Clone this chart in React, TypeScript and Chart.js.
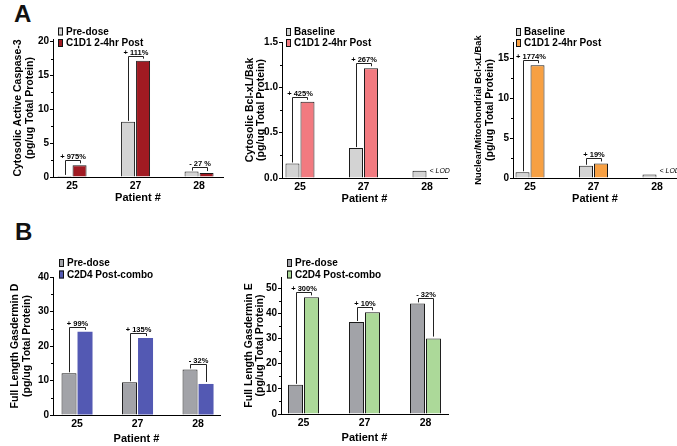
import React, { useEffect, useRef } from 'react';
import { Chart, registerables } from 'chart.js';
Chart.register(...registerables);

const FONT = '"Liberation Sans", Arial, Helvetica, sans-serif';

// ---------- data ----------
const patients = ['25', '27', '28'];

const casp3Pre = [0.16, 8.15, 0.8];
const casp3Post = [1.72, 17.2, 0.58];
const casp3Change = ['+ 975%', '+ 111%', '- 27 %'];
const casp3Ticks = [0, 5, 10, 15, 20];
const casp3TickLabels = ['0', '5', '10', '15', '20'];

const bclCytoBase = [0.16, 0.33, 0.08];
const bclCytoPost = [0.84, 1.21, null];
const bclCytoChange = ['+ 425%', '+ 267%', null];
const bclCytoTicks = [0, 0.5, 1.0, 1.5];
const bclCytoTickLabels = ['0.0', '0.5', '1.0', '1.5'];

const bclNucBase = [0.72, 1.53, 0.45];
const bclNucPost = [14.1, 1.82, null];
const bclNucChange = ['+ 1774%', '+ 19%', null];
const bclNucTicks = [0, 5, 10, 15];
const bclNucTickLabels = ['0', '5', '10', '15'];

const gsdmdPre = [12.1, 9.5, 13.2];
const gsdmdPost = [24.1, 22.3, 9.0];
const gsdmdChange = ['+ 99%', '+ 135%', '- 32%'];
const gsdmdTicks = [0, 10, 20, 30, 40];
const gsdmdTickLabels = ['0', '10', '20', '30', '40'];

const gsdmePre = [11.6, 36.6, 44.0];
const gsdmePost = [46.4, 40.5, 30.0];
const gsdmeChange = ['+ 300%', '+ 10%', '- 32%'];
const gsdmeTicks = [0, 10, 20, 30, 40, 50];
const gsdmeTickLabels = ['0', '10', '20', '30', '40', '50'];

const lodLabel = '< LOD';
const xTitle = 'Patient #';

type PanelCfg = {
  key: string;
  left: number; top: number; width: number; height: number;
  yAxisW: number; xAxisH: number; padTop: number; padRight: number;
  xMin: number; xMax: number; yMax: number;
  yTicks: number[]; yTickLabels: string[];
  pre: (number | null)[]; post: (number | null)[]; changes: (string | null)[];
  names: string[];
  preColor: string; postColor: string; postBorder: number;
  yTitle: string[]; titleX: number[]; titleSizes: number[];
  legendDx: number; legendRows: number[];
  barPct: number; catPct: number;
};

const panels: PanelCfg[] = [
  {
    key: 'casp3', left: 0, top: 0, width: 232, height: 205,
    yAxisW: 53, xAxisH: 28, padTop: 39, padRight: 9,
    xMin: -0.3, xMax: 2.377, yMax: 20.4,
    yTicks: casp3Ticks, yTickLabels: casp3TickLabels,
    pre: casp3Pre, post: casp3Post, changes: casp3Change,
    names: ['Pre-dose', 'C1D1 2-4hr Post'],
    preColor: '#d3d3d3', postColor: '#a11a22', postBorder: 1,
    yTitle: ['Cytosolic Active Caspase-3', '(pg/ug Total Protein)'], titleX: [18, 30], titleSizes: [10.5, 10.5],
    legendDx: 5, legendRows: [31.5, 43],
    barPct: 0.933, catPct: 0.4724,
  },
  {
    key: 'bclc', left: 232, top: 0, width: 230, height: 206,
    yAxisW: 50, xAxisH: 28, padTop: 42, padRight: 15,
    xMin: -0.283, xMax: 2.315, yMax: 1.5,
    yTicks: bclCytoTicks, yTickLabels: bclCytoTickLabels,
    pre: bclCytoBase, post: bclCytoPost, changes: bclCytoChange,
    names: ['Baseline', 'C1D1 2-4hr Post'],
    preColor: '#d3d3d3', postColor: '#f27a80', postBorder: 1,
    yTitle: ['Cytosolic Bcl-xL/Bak', '(pg/ug Total Protein)'], titleX: [18, 29.5], titleSizes: [10.5, 10.5],
    legendDx: 4, legendRows: [32, 43],
    barPct: 0.933, catPct: 0.4724,
  },
  {
    key: 'bcln', left: 462, top: 0, width: 215, height: 206,
    yAxisW: 51, xAxisH: 28, padTop: 42, padRight: 0,
    xMin: -0.268, xMax: 2.315, yMax: 17,
    yTicks: bclNucTicks, yTickLabels: bclNucTickLabels,
    pre: bclNucBase, post: bclNucPost, changes: bclNucChange,
    names: ['Baseline', 'C1D1 2-4hr Post'],
    preColor: '#d3d3d3', postColor: '#f7a043', postBorder: 1,
    yTitle: ['Nuclear/Mitochondrial Bcl-xL/Bak', '(pg/ug Total Protein)'], titleX: [16, 28.5], titleSizes: [9.4, 10.5],
    legendDx: 3, legendRows: [32, 43],
    barPct: 0.933, catPct: 0.4724,
  },
  {
    key: 'gsdmd', left: 0, top: 250, width: 236, height: 196,
    yAxisW: 53, xAxisH: 31, padTop: 27, padRight: 16,
    xMin: -0.397, xMax: 2.363, yMax: 40,
    yTicks: gsdmdTicks, yTickLabels: gsdmdTickLabels,
    pre: gsdmdPre, post: gsdmdPost, changes: gsdmdChange,
    names: ['Pre-dose', 'C2D4 Post-combo'],
    preColor: '#a2a3a8', postColor: '#5359b3', postBorder: 0,
    yTitle: ['Full Length Gasdermin D', '(pg/ug Total Protein)'], titleX: [15.5, 27], titleSizes: [10.5, 10.5],
    legendDx: 6, legendRows: [13, 24.5],
    barPct: 0.9375, catPct: 0.529,
  },
  {
    key: 'gsdme', left: 236, top: 250, width: 234, height: 195,
    yAxisW: 45, xAxisH: 31, padTop: 27, padRight: 22,
    xMin: -0.369, xMax: 2.369, yMax: 54.5,
    yTicks: gsdmeTicks, yTickLabels: gsdmeTickLabels,
    pre: gsdmePre, post: gsdmePost, changes: gsdmeChange,
    names: ['Pre-dose', 'C2D4 Post-combo'],
    preColor: '#a2a3a8', postColor: '#acd999', postBorder: 1,
    yTitle: ['Full Length Gasdermin E', '(pg/ug Total Protein)'], titleX: [13, 24.5], titleSizes: [10.5, 10.5],
    legendDx: 6, legendRows: [13, 24.5],
    barPct: 0.9375, catPct: 0.524,
  },
];

function makePlugin(p: PanelCfg) {
  return {
    id: 'decor_' + p.key,
    afterDraw(chart: any) {
      const ctx: CanvasRenderingContext2D = chart.ctx;
      const ca = chart.chartArea;
      const ys = chart.scales.y;
      ctx.save();
      ctx.strokeStyle = '#000';
      ctx.fillStyle = '#000';
      ctx.lineWidth = 1;
      // minor ticks
      ctx.beginPath();
      for (let i = 0; i < p.yTicks.length - 1; i++) {
        const v = (p.yTicks[i] + p.yTicks[i + 1]) / 2;
        const py = Math.round(ys.getPixelForValue(v)) + 0.5;
        ctx.moveTo(ca.left - 2, py);
        ctx.lineTo(ca.left, py);
      }
      ctx.stroke();

      // brackets
      const m0 = chart.getDatasetMeta(0);
      const m1 = chart.getDatasetMeta(1);
      ctx.strokeStyle = '#222';
      p.changes.forEach((label, i) => {
        if (!label) return;
        const b0 = m0.data[i];
        const b1 = m1.data[i];
        const x0 = Math.round(b0.x) + 0.5;
        const x1 = Math.round(b1.x) + 0.5;
        const level = Math.round(Math.min(b0.y, b1.y) - 5) + 0.5;
        ctx.beginPath();
        ctx.moveTo(x0, b0.y - 1);
        ctx.lineTo(x0, level);
        ctx.lineTo(x1, level);
        ctx.lineTo(x1, b1.y - 2);
        ctx.stroke();
        ctx.font = `bold 7.5px ${FONT}`;
        ctx.textAlign = 'center';
        ctx.textBaseline = 'alphabetic';
        ctx.fillText(label, (x0 + x1) / 2, level - 1.5);
      });

      // < LOD
      p.post.forEach((v, i) => {
        if (v !== null) return;
        const b0 = m0.data[i];
        ctx.font = `italic 7px ${FONT}`;
        ctx.textAlign = 'left';
        ctx.textBaseline = 'alphabetic';
        ctx.fillText(lodLabel, b0.x + b0.width / 2 + 3, ys.getPixelForValue(0) - 5);
      });

      // legend
      const colors = [p.preColor, p.postColor];
      p.names.forEach((name, i) => {
        const cy = p.legendRows[i];
        const bx = ca.left + p.legendDx;
        ctx.fillStyle = colors[i];
        ctx.fillRect(bx, cy - 4, 5, 8);
        ctx.strokeStyle = '#111';
        ctx.strokeRect(bx + 0.5, cy - 3.5, 4, 7);
        ctx.fillStyle = '#000';
        ctx.font = `bold 10px ${FONT}`;
        ctx.textAlign = 'left';
        ctx.textBaseline = 'middle';
        ctx.fillText(name, bx + 8, cy + 0.5);
      });

      // y title
      const cyMid = (ca.top + ca.bottom) / 2;
      p.yTitle.forEach((t, i) => {
        ctx.save();
        ctx.translate(p.titleX[i], cyMid);
        ctx.rotate(-Math.PI / 2);
        ctx.font = `bold ${p.titleSizes[i]}px ${FONT}`;
        ctx.textAlign = 'center';
        ctx.textBaseline = 'middle';
        ctx.fillStyle = '#000';
        ctx.fillText(t, 0, 0);
        ctx.restore();
      });
      ctx.restore();
    },
  };
}

function buildConfig(p: PanelCfg): any {
  const mk = (vals: (number | null)[]) => vals.map((v, i) => ({ x: i, y: v }));
  return {
    type: 'bar',
    data: {
      datasets: [
        {
          label: p.names[0], data: mk(p.pre),
          backgroundColor: p.preColor, borderColor: '#1a1a1a', borderWidth: 1,
          barPercentage: p.barPct, categoryPercentage: p.catPct,
        },
        {
          label: p.names[1], data: mk(p.post),
          backgroundColor: p.postColor, borderColor: p.postBorder ? '#1a1a1a' : p.postColor, borderWidth: p.postBorder,
          barPercentage: p.barPct, categoryPercentage: p.catPct,
        },
      ],
    },
    options: {
      animation: false,
      responsive: false,
      maintainAspectRatio: false,
      devicePixelRatio: 1,
      layout: { padding: { top: p.padTop, right: p.padRight, left: 0, bottom: 0 } },
      plugins: { legend: { display: false }, tooltip: { enabled: false }, title: { display: false } },
      scales: {
        x: {
          type: 'linear', min: p.xMin, max: p.xMax, offset: false,
          grid: { display: false, drawTicks: false, offset: false },
          border: { display: true, color: '#000', width: 1 },
          afterBuildTicks: (s: any) => { s.ticks = patients.map((_, i) => ({ value: i })); },
          afterFit: (s: any) => { s.height = p.xAxisH; },
          ticks: {
            autoSkip: false, maxRotation: 0, padding: 3, color: '#000',
            font: { family: FONT, size: 10.5, weight: 'bold' },
            callback: (_v: any, idx: number) => patients[idx] ?? '',
          },
          title: {
            display: true, text: xTitle, color: '#000',
            font: { family: FONT, size: 11, weight: 'bold' },
            padding: { top: 0, bottom: 0 },
          },
        },
        y: {
          type: 'linear', min: 0, max: p.yMax,
          grid: { display: true, drawOnChartArea: false, drawTicks: true, tickLength: 3, tickColor: '#000', tickWidth: 1 },
          border: { display: true, color: '#000', width: 1 },
          afterBuildTicks: (s: any) => { s.ticks = p.yTicks.map((v) => ({ value: v })); },
          afterFit: (s: any) => { s.width = p.yAxisW; },
          ticks: {
            padding: 1, color: '#000',
            font: { family: FONT, size: 10, weight: 'bold' },
            callback: (_v: any, idx: number) => p.yTickLabels[idx] ?? '',
          },
        },
      },
    },
    plugins: [makePlugin(p)],
  };
}

function PanelChart({ p }: { p: PanelCfg }) {
  const ref = useRef<HTMLCanvasElement>(null);
  useEffect(() => {
    const chart = new Chart(ref.current as HTMLCanvasElement, buildConfig(p));
    return () => chart.destroy();
  }, []);
  return (
    <canvas
      ref={ref}
      width={p.width}
      height={p.height}
      style={{ position: 'absolute', left: p.left, top: p.top, width: p.width, height: p.height }}
    />
  );
}

const letterStyle: React.CSSProperties = {
  position: 'absolute', fontFamily: FONT, fontWeight: 'bold', fontSize: 24, lineHeight: '24px', color: '#111',
};

export default function App() {
  return (
    <div style={{ position: 'fixed', left: 0, top: 0, width: 677, height: 446, background: '#fff', overflow: 'hidden' }}>
      <div style={{ ...letterStyle, left: 14, top: 2 }}>A</div>
      <div style={{ ...letterStyle, left: 15, top: 220 }}>B</div>
      {panels.map((p) => <PanelChart key={p.key} p={p} />)}
    </div>
  );
}
